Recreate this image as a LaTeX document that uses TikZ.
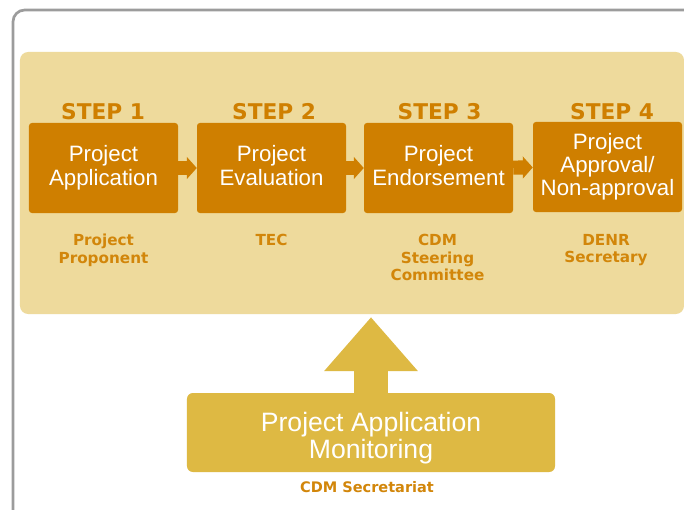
\documentclass[tikz,border=0pt]{standalone}
\usepackage{fontspec}
\setmainfont{Liberation Sans}
\newfontfamily\verd{DejaVu Sans}
\usepackage{xcolor}
\usetikzlibrary{positioning,arrows.meta}
\definecolor{boxorange}{HTML}{CF7F00}
\definecolor{labelorange}{HTML}{D2860A}
\definecolor{paneltan}{HTML}{EEDA9C}
\definecolor{goldfill}{HTML}{DEB943}
\definecolor{framegray}{HTML}{9C9C9C}

\begin{document}
\begin{tikzpicture}[x=0.03cm,y=-0.03cm,
  stepbox/.style={fill=boxorange,rounded corners=2.5pt,minimum width=4.47cm,minimum height=2.7cm,inner sep=0pt,
    text=white,align=center,font=\fontsize{19}{20.3}\selectfont,execute at end node={\vphantom{p}}},
  steptitle/.style={text=boxorange,inner sep=0pt,font=\verd\bfseries\fontsize{18.5}{20}\selectfont},
  whobox/.style={text=labelorange,inner sep=0pt,anchor=north,align=center,font=\verd\bfseries\fontsize{13}{15}\selectfont},
  flowarrow/.style={draw=boxorange,line width=12pt,-{Triangle[length=8.5pt,width=18.5pt]}},
  uparrow/.style={draw=goldfill,line width=29pt,-{Triangle[length=46pt,width=77pt]},shorten >=2.5pt}]
\clip (0,0) rectangle (684,509);
\useasboundingbox (0,0) rectangle (684,509);
\fill[white] (0,0) rectangle (684,509);
\draw[framegray,line width=2.3pt,rounded corners=10pt] (13,10) rectangle (720,540);
\node[fill=paneltan,rounded corners=7pt,minimum width=19.92cm,minimum height=7.86cm,inner sep=0pt] (panel) at (352,183) {};

\node[stepbox] (step1) at (103.5,168) {Project\\Application};
\node[stepbox] (step2) at (271.5,168) {Project\\Evaluation};
\node[stepbox] (step3) at (438.5,168) {Project\\Endorsement};
\node[stepbox,font=\fontsize{19}{19.5}\selectfont] (step4) at (607.5,167) {Project\\Approval/\\Non-approval};

\node[steptitle] (title1) at (103,111.5) {STEP 1};
\node[steptitle] (title2) at (274,111.5) {STEP 2};
\node[steptitle] (title3) at (439.5,111.5) {STEP 3};
\node[steptitle] (title4) at (612,111.5) {STEP 4};

\node[whobox] (who1) at (103.5,234) {Project\\Proponent};
\node[whobox] (who2) at (271.5,234) {TEC};
\node[whobox] (who3) at (437.5,234) {CDM\\Steering\\Committee};
\node[whobox] (who4) at (606,234) {DENR\\Secretary};

\draw[flowarrow] (step1) -- (step2);
\draw[flowarrow] (step2) -- (step3);
\draw[flowarrow] (step3) -- (step4);

\node[fill=goldfill,rounded corners=5pt,minimum width=11.04cm,minimum height=2.37cm,inner sep=0pt,
  text=white,align=center,font=\fontsize{22.7}{23.5}\selectfont] (monitor) at (371,432.5) {\rule{0pt}{26pt}Project Application\\Monitoring};
\draw[uparrow] (monitor.north) -- (monitor.north |- panel.south);
\node[text=labelorange,inner sep=0pt,font=\verd\bfseries\fontsize{12.4}{14}\selectfont] (secretariat) at (367,487) {CDM Secretariat};
\end{tikzpicture}
\end{document}
